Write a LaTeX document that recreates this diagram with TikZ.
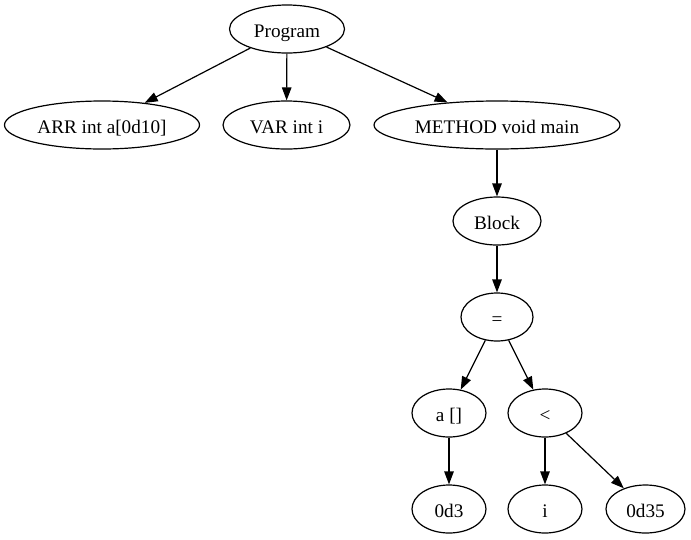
\documentclass[tikz,border=0pt]{standalone}
\usepackage{fontspec}
\setmainfont{Liberation Serif}
\usetikzlibrary{shapes.geometric,arrows.meta}
\begin{document}
\begin{tikzpicture}[x=1pt,y=-1pt,
  tnode/.style={ellipse,draw,line width=1.2pt,inner sep=0pt,minimum height=48pt,text height=16pt,text depth=0pt,font=\fontsize{19.2}{22}\selectfont},
  edge/.style={line width=1.2pt,-{Triangle[length=13pt,width=9.5pt]}}]
\useasboundingbox (0,0) rectangle (691,539);
\node[tnode,minimum width=115pt] (prog) at (287,29) {Program};
\node[tnode,minimum width=195pt] (arr) at (102,125) {ARR int a[0d10]};
\node[tnode,minimum width=127pt] (var) at (286.5,125) {VAR int i};
\node[tnode,minimum width=246pt] (meth) at (497,125) {METHOD void main};
\node[tnode,minimum width=88pt] (block) at (497,221) {Block};
\node[tnode,minimum width=72pt] (asg) at (497,317) {=};
\node[tnode,minimum width=74pt] (aidx) at (449,413) {a []};
\node[tnode,minimum width=74pt] (lt) at (545,413) {<};
\node[tnode,minimum width=74pt] (c3) at (449,509) {0d3};
\node[tnode,minimum width=74pt] (iv) at (545,509) {i};
\node[tnode,minimum width=79pt] (c35) at (645.5,509) {0d35};
\draw[edge] (prog) -- (arr);
\draw[edge] (prog) -- (var);
\draw[edge] (prog) -- (meth);
\draw[edge] (meth) -- (block);
\draw[edge] (block) -- (asg);
\draw[edge] (asg) -- (aidx);
\draw[edge] (asg) -- (lt);
\draw[edge] (aidx) -- (c3);
\draw[edge] (lt) -- (iv);
\draw[edge] (lt) -- (c35);
\end{tikzpicture}
\end{document}
